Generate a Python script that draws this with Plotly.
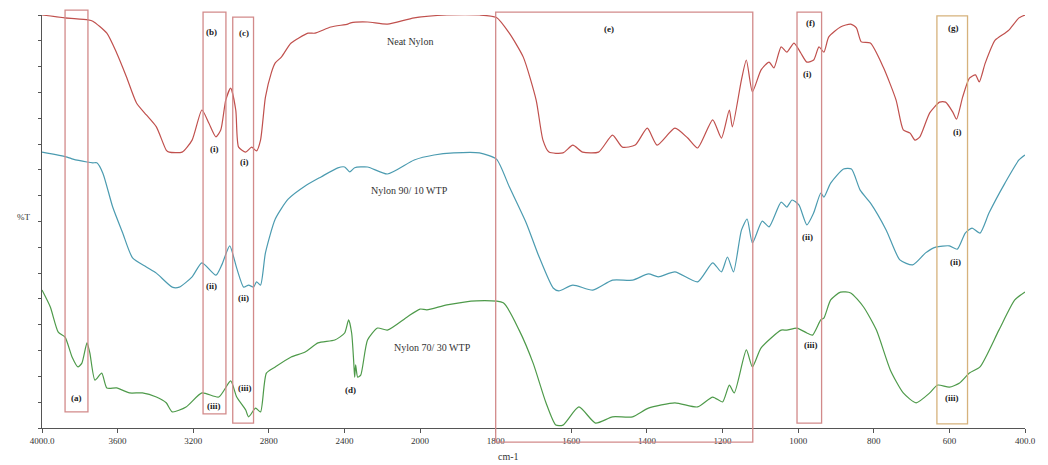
import numpy as np
import plotly.graph_objects as go

# ---------------- data (wavenumber cm-1, %T arbitrary offset scale) ----------------
neat_wn = [4000, 3878, 3757, 3731, 3657, 3605, 3553, 3500, 3448, 3395, 3343, 3327, 3259, 3206, 3154,
           3117, 3080, 3054, 3028, 3002, 2975, 2960, 2923, 2891, 2865, 2844, 2818, 2787, 2766, 2734,
           2698, 2682, 2593, 2556, 2472, 2383, 2367, 2278, 2173, 2031, 1929, 1843, 1798, 1764, 1727,
           1693, 1675, 1659, 1622, 1596, 1570, 1528, 1491, 1465, 1431, 1399, 1373, 1326, 1292, 1266,
           1226, 1203, 1182, 1174, 1150, 1137, 1121, 1098, 1077, 1064, 1045, 1030, 1011, 993, 977,
           959, 945, 932, 919, 888, 861, 846, 833, 809, 775, 741, 722, 704, 691, 678, 652, 626, 610,
           591, 581, 565, 547, 531, 521, 505, 479, 453, 442, 416, 400]
neat_t = [100.0, 99.3, 98.8, 98.5, 95.6, 90.8, 85.0, 78.7, 75.8, 72.9, 67.3, 66.8, 66.8, 69.7, 77.0,
          73.8, 70.5, 72.2, 79.4, 82.3, 77.0, 68.0, 66.8, 68.0, 67.1, 69.7, 80.1, 86.0, 88.4, 89.8,
          92.3, 93.2, 95.6, 95.6, 97.1, 97.8, 98.1, 98.3, 97.8, 99.3, 100.0, 100.0, 99.4, 95.6, 89.8,
          79.4, 69.7, 66.8, 66.6, 68.5, 66.8, 66.8, 70.9, 68.0, 68.5, 72.6, 68.5, 72.6, 70.2, 67.8,
          74.6, 70.2, 77.0, 72.9, 84.3, 89.1, 81.4, 86.7, 88.6, 87.2, 92.3, 91.0, 93.2, 90.8, 88.6,
          89.1, 92.3, 91.0, 94.7, 97.1, 97.8, 96.9, 93.5, 93.2, 87.4, 79.4, 72.2, 71.4, 69.7, 70.5,
          76.3, 78.9, 78.9, 76.5, 74.8, 80.1, 84.7, 85.5, 83.8, 88.4, 93.9, 95.6, 96.4, 99.3, 100.0]

n90_wn = [4000, 3867, 3836, 3762, 3731, 3710, 3678, 3626, 3573, 3521, 3448, 3395, 3311, 3274, 3206,
          3154, 3080, 3049, 3007, 2970, 2933, 2907, 2881, 2865, 2844, 2818, 2766, 2698, 2608, 2524,
          2435, 2399, 2372, 2346, 2278, 2173, 2031, 1963, 1911, 1843, 1798, 1764, 1719, 1685, 1648,
          1633, 1596, 1543, 1491, 1438, 1396, 1370, 1326, 1266, 1226, 1203, 1187, 1171, 1150, 1135,
          1121, 1095, 1077, 1045, 1030, 1016, 998, 977, 959, 940, 932, 914, 880, 859, 836, 809, 767,
          731, 697, 663, 636, 600, 579, 558, 540, 519, 495, 453, 416, 400]
n90_t = [66.8, 65.6, 65.1, 64.4, 64.2, 64.2, 61.7, 53.5, 47.2, 41.2, 39.0, 37.5, 34.1, 34.1, 36.6,
         40.0, 37.0, 39.5, 44.1, 38.7, 34.1, 34.6, 34.1, 35.4, 34.6, 42.4, 50.6, 55.4, 58.6, 60.8,
         63.0, 63.2, 62.0, 63.0, 63.2, 61.5, 64.9, 66.1, 66.6, 66.6, 65.1, 58.4, 49.6, 41.4, 33.9,
         33.2, 34.6, 33.4, 35.8, 35.8, 37.3, 36.6, 37.8, 35.4, 40.0, 37.8, 41.4, 37.8, 47.9, 50.6,
         44.8, 50.1, 48.7, 54.7, 53.5, 55.2, 54.0, 49.2, 52.1, 56.9, 55.9, 59.3, 62.7, 62.7, 57.6,
         54.5, 47.9, 40.7, 39.5, 42.4, 43.8, 44.1, 43.3, 47.2, 48.4, 47.2, 52.1, 59.3, 64.9, 66.1]

n70_wn = [4000, 3956, 3914, 3878, 3841, 3810, 3789, 3762, 3747, 3720, 3684, 3657, 3605, 3537, 3469,
          3395, 3343, 3311, 3238, 3154, 3065, 3002, 2970, 2923, 2907, 2870, 2844, 2813, 2766, 2682,
          2608, 2540, 2451, 2399, 2378, 2362, 2351, 2346, 2341, 2330, 2314, 2278, 2225, 2173, 2068,
          2000, 1982, 1929, 1851, 1780, 1738, 1701, 1667, 1641, 1622, 1580, 1536, 1491, 1438, 1396,
          1326, 1266, 1226, 1200, 1182, 1169, 1137, 1121, 1098, 1045, 1030, 1003, 977, 962, 940, 932,
          914, 888, 861, 827, 793, 756, 722, 688, 652, 631, 600, 573, 547, 519, 469, 427, 400]
n70_t = [33.4, 29.3, 23.2, 22.0, 17.2, 14.8, 15.7, 20.6, 18.2, 11.6, 13.3, 9.7, 9.7, 8.5, 8.5,
         7.5, 6.1, 3.9, 5.1, 8.5, 7.5, 11.4, 7.5, 4.4, 2.7, 4.8, 3.9, 13.3, 14.8, 17.2,
         18.4, 20.6, 21.3, 23.0, 26.2, 23.0, 16.0, 12.3, 15.3, 12.3, 12.8, 21.3, 24.2, 23.7, 26.9,
         28.8, 28.6, 29.8, 30.8, 30.3, 23.7, 15.7, 6.1, 0.7, 0.7, 5.1, 1.2, 2.7, 2.7, 4.8,
         6.1, 5.1, 7.5, 6.3, 10.4, 8.5, 18.9, 14.8, 19.4, 23.7, 23.7, 24.2, 23.0, 22.5, 26.2, 26.6,
         31.0, 32.9, 32.7, 29.3, 23.7, 14.0, 8.5, 6.1, 8.5, 10.4, 9.9, 10.9, 13.3, 14.8, 23.7, 31.0, 32.9]

tick_wn = [4000, 3600, 3200, 2800, 2400, 2000, 1800, 1600, 1400, 1200, 1000, 800, 600, 400]
tick_text = ["4000.0", "3600", "3200", "2800", "2400", "2000", "1800", "1600", "1400", "1200",
             "1000", "800", "600", "400.0"]

series_names = ["Neat Nylon", "Nylon 90/ 10 WTP", "Nylon 70/ 30 WTP"]
series_colors = ["#c0504d", "#4b9bb0", "#4e9a4a"]

# highlighted regions (wavenumber ranges) and their labels
box_names = ["(a)", "(b)", "(c)", "(e)", "(f)", "(g)"]
box_wn = [(3878, 3757), (3148, 3027), (2991, 2881), (1800, 1120), (1003, 938), (633, 552)]
box_py = [(0.039, 1.012), (0.034, 1.007), (0.012, 0.995), (-0.034, 1.007), (0.012, 1.007), (0.010, 0.998)]
box_colors = ["#d28a8a", "#d28a8a", "#d28a8a", "#d28a8a", "#d28a8a", "#d6b27c"]


def to_u(w):
    """Instrument axis: 400 cm-1 per division above 2000, 200 cm-1 per division below."""
    w = np.asarray(w, dtype=float)
    return np.where(w >= 2000, (4000 - w) / 400.0, 5 + (2000 - w) / 200.0)


fig = go.Figure()
for wn, t, name, col in zip([neat_wn, n90_wn, n70_wn], [neat_t, n90_t, n70_t], series_names, series_colors):
    fig.add_trace(go.Scatter(x=to_u(wn), y=t, mode="lines", name=name,
                             line=dict(color=col, width=1.2, shape="spline", smoothing=0.6),
                             showlegend=False))

for (w0, w1), (y0, y1), col in zip(box_wn, box_py, box_colors):
    fig.add_shape(type="rect", xref="x", yref="paper", x0=float(to_u(w0)), x1=float(to_u(w1)),
                  y0=y0, y1=y1, line=dict(color=col, width=1.3), fillcolor="rgba(0,0,0,0)", layer="above")

serif = "Liberation Serif"
# series labels
series_lbl = [("Neat Nylon", 2052, 93.7), ("Nylon 90/ 10 WTP", 2057, 57.4), ("Nylon 70/ 30 WTP", 1966, 19.6)]
for txt, w, v in series_lbl:
    fig.add_annotation(x=float(to_u(w)), y=v, text=txt, showarrow=False,
                       font=dict(family=serif, size=10, color="#333333"))

# peak / region labels
marks = [("(a)", 3820, 7.3), ("(b)", 3101, 95.9), ("(c)", 2933, 95.6),
         ("(i)", 3086, 67.6), ("(i)", 2928, 64.4), ("(ii)", 3101, 34.4), ("(ii)", 2933, 31.5),
         ("(iii)", 3091, 5.3), ("(iii)", 2928, 9.7), ("(d)", 2367, 9.2), ("(e)", 1499, 96.6),
         ("(f)", 967, 98.1), ("(i)", 974, 85.7), ("(ii)", 974, 46.2), ("(iii)", 967, 20.1),
         ("(g)", 589, 96.9), ("(i)", 578, 71.7), ("(ii)", 584, 40.2), ("(iii)", 594, 7.3)]
for txt, w, v in marks:
    fig.add_annotation(x=float(to_u(w)), y=v, text="<b>" + txt + "</b>", showarrow=False,
                       font=dict(family=serif, size=9, color="#222222"))

fig.add_annotation(xref="paper", yref="paper", x=-0.027, y=0.51, text="%T", showarrow=False,
                   font=dict(family=serif, size=9, color="#333333"))
fig.add_annotation(xref="paper", yref="paper", x=0.475, y=-0.068, text="cm-1", showarrow=False,
                   yanchor="middle", font=dict(family=serif, size=10, color="#333333"))

fig.update_layout(
    width=1048, height=465,
    margin=dict(l=42, r=15, t=15, b=37),
    paper_bgcolor="white", plot_bgcolor="white",
    xaxis=dict(range=[0, 13], tickmode="array", tickvals=to_u(tick_wn).tolist(), ticktext=tick_text,
               showgrid=False, zeroline=False, showline=True, linecolor="#555555", linewidth=1,
               ticks="outside", ticklen=4, tickcolor="#555555",
               tickfont=dict(family=serif, size=9, color="#333333")),
    yaxis=dict(range=[0, 100], dtick=6.25, tick0=0, showticklabels=False, showgrid=False,
               zeroline=False, showline=True, linecolor="#555555", linewidth=1,
               ticks="outside", ticklen=3, tickcolor="#555555"),
)

fig.write_html("out.html")
